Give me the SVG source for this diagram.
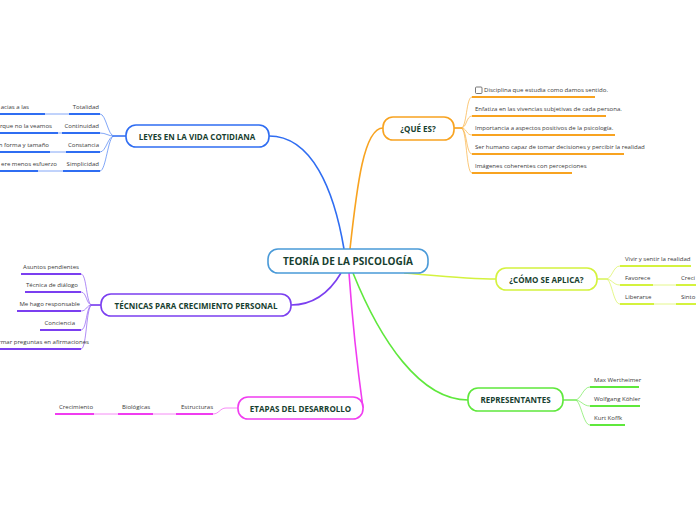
<svg xmlns="http://www.w3.org/2000/svg" width="696" height="520" viewBox="0 0 696 520">
<style>
.node{fill:#fff;stroke-width:1.6}
.nt{font-family:"Open Sans","Noto Sans",sans-serif;font-weight:700;font-size:8px;fill:#17402f;text-anchor:middle;dominant-baseline:central}
.ct{font-family:"Open Sans","Noto Sans",sans-serif;font-size:6.05px;fill:#3a3a3a}
.end{text-anchor:end}
.ul{stroke-width:2;fill:none}
.main{fill:none;stroke-width:1.6}
.sub{fill:none;stroke-width:1;opacity:.6}
.blue{stroke:#2f6df2}.orange{stroke:#f8a320}.lime{stroke:#d4f23e}.green{stroke:#5fe83c}.mag{stroke:#f03cf0}.purp{stroke:#7b3ff0}
</style>
<rect width="696" height="520" fill="#fff"/>
<g id="connectors">
  <path class="main blue" d="M344,249 C334,190 312,136 269,136"/>
  <path class="main orange" d="M350,249 C357,185 364,128 383,128"/>
  <path class="main lime" d="M404,273 C440,276 470,279 496,279"/>
  <path class="main green" d="M353,273 C380,340 420,400 468,400"/>
  <path class="main mag" d="M349,273 C353,330 358,372 363,408"/>
  <path class="main purp" d="M341,273 C328,295 310,305 291,305"/>
  <path class="sub blue" d="M126,136 H114 C108,136 106,114 100,114"/>
  <path class="sub blue" d="M126,136 H114 C108,136 106,133 100,133"/>
  <path class="sub blue" d="M126,136 H114 C108,136 106,152 100,152"/>
  <path class="sub blue" d="M126,136 H114 C108,136 106,171 100,171"/>
  <path class="sub blue" d="M69,114 H45 M62,133 H58 M66,152 H50 M63,171 H38"/>
  <path class="sub orange" d="M454,128 H461 C467,128 466,97 472,97"/>
  <path class="sub orange" d="M454,128 H461 C467,128 466,116 472,116"/>
  <path class="sub orange" d="M454,128 H461 C467,128 466,135 472,135"/>
  <path class="sub orange" d="M454,128 H461 C467,128 466,154 472,154"/>
  <path class="sub orange" d="M454,128 H461 C467,128 466,173 472,173"/>
  <path class="sub lime" d="M597,279 H606 C612,279 613,266 620,266"/>
  <path class="sub lime" d="M597,279 H606 C612,279 613,285 620,285"/>
  <path class="sub lime" d="M597,279 H606 C612,279 613,304 620,304"/>
  <path class="sub lime" d="M653,285 H676 M654,304 H676"/>
  <path class="sub green" d="M563,400 H575 C581,400 583,387 590,387"/>
  <path class="sub green" d="M563,400 H575 C581,400 583,406 590,406"/>
  <path class="sub green" d="M563,400 H575 C581,400 583,425 590,425"/>
  <path class="sub mag" d="M238,408 H226 C220,408 219,414 213,414"/>
  <path class="sub mag" d="M176,414 H153 M118,414 H94"/>
  <path class="sub purp" d="M101,305 H92 C86,305 87,274 81,274"/>
  <path class="sub purp" d="M101,305 H92 C86,305 87,292 81,292"/>
  <path class="sub purp" d="M101,305 H92 C86,305 87,311 81,311"/>
  <path class="sub purp" d="M101,305 H92 C86,305 87,330 81,330"/>
  <path class="sub purp" d="M101,305 H92 C86,305 87,349 81,349"/>
</g>
<g id="central">
  <rect class="node" x="268" y="249" width="160" height="24" rx="10" stroke="#4a9ad8"/>
  <text class="nt" x="348" y="261" style="font-size:10px">TEORÍA DE LA PSICOLOGÍA</text>
</g>
<g id="leyes">
  <rect class="node" x="126" y="125" width="143" height="22" rx="10" stroke="#2f6df2"/>
  <text class="nt" x="197" y="136">LEYES EN LA VIDA COTIDIANA</text>
</g>
<g id="leyes-children">
  <path class="ul blue" d="M69,114 H100 M62,133 H100 M66,152 H100 M63,171 H100"/>
  <path class="ul blue" d="M0,114 H45 M0,133 H58 M0,152 H50 M0,171 H38"/>
  <text class="ct end" x="99" y="109">Totalidad</text>
  <text class="ct end" x="99" y="128">Continuidad</text>
  <text class="ct end" x="99" y="147">Constancia</text>
  <text class="ct end" x="99" y="166">Simplicidad</text>
  <text class="ct end" x="29" y="109">acias a las</text>
  <text class="ct end" x="52" y="128">rque no la veamos</text>
  <text class="ct end" x="49" y="147">n forma y tamaño</text>
  <text class="ct end" x="57" y="166">ere menos esfuerzo</text>
</g>
<g id="que-es">
  <rect class="node" x="383" y="117" width="71" height="23" rx="10" stroke="#f8a320"/>
  <text class="nt" x="418" y="128.5">¿QUÉ ES?</text>
</g>
<g id="que-es-children">
  <path class="ul orange" d="M472,97 H595 M472,116 H606 M472,135 H615 M472,154 H624 M472,173 H572"/>
  <rect x="475.5" y="87" width="6.5" height="6.5" rx="1" fill="#fff" stroke="#555" stroke-width=".8"/>
  <text class="ct" x="484" y="92">Disciplina que estudia como damos sentido.</text>
  <text class="ct" x="475" y="111">Enfatiza en las vivencias subjetivas de cada persona.</text>
  <text class="ct" x="475" y="130">Importancia a aspectos positivos de la psicología.</text>
  <text class="ct" x="475" y="149">Ser humano capaz de tomar decisiones y percibir la realidad</text>
  <text class="ct" x="475" y="168">Imágenes coherentes con percepciones</text>
</g>
<g id="como">
  <rect class="node" x="496" y="268" width="101" height="22" rx="10" stroke="#d4f23e"/>
  <text class="nt" x="546.5" y="279">¿CÓMO SE APLICA?</text>
</g>
<g id="como-children">
  <path class="ul lime" d="M620,266 H691 M620,285 H653 M620,304 H654 M676,285 H696 M676,304 H696"/>
  <text class="ct" x="625" y="261">Vivir y sentir la realidad</text>
  <text class="ct" x="625" y="280">Favorece</text>
  <text class="ct" x="625" y="299">Liberarse</text>
  <text class="ct" x="681" y="280">Creci</text>
  <text class="ct" x="681" y="299">Sinto</text>
</g>
<g id="representantes">
  <rect class="node" x="468" y="388" width="95" height="23" rx="10" stroke="#5fe83c"/>
  <text class="nt" x="515.5" y="399.5">REPRESENTANTES</text>
</g>
<g id="representantes-children">
  <path class="ul green" d="M590,387 H639 M590,406 H640 M590,425 H625"/>
  <text class="ct" x="594" y="382">Max Wertheimer</text>
  <text class="ct" x="594" y="401">Wolfgang Köhler</text>
  <text class="ct" x="594" y="420">Kurt Koffk</text>
</g>
<g id="etapas">
  <rect class="node" x="238" y="397" width="125" height="22" rx="10" stroke="#f03cf0"/>
  <text class="nt" x="300.5" y="408">ETAPAS DEL DESARROLLO</text>
</g>
<g id="etapas-children">
  <path class="ul mag" d="M176,414 H213 M118,414 H153 M55,414 H94"/>
  <text class="ct" x="181" y="409">Estructuras</text>
  <text class="ct" x="122" y="409">Biológicas</text>
  <text class="ct" x="59" y="409">Crecimiento</text>
</g>
<g id="tecnicas">
  <rect class="node" x="101" y="294" width="190" height="22" rx="10" stroke="#7b3ff0"/>
  <text class="nt" x="196" y="305">TÉCNICAS PARA CRECIMIENTO PERSONAL</text>
</g>
<g id="tecnicas-children">
  <path class="ul purp" d="M21,274 H81 M25,292 H81 M17,311 H81 M40,330 H81 M0,349 H81"/>
  <text class="ct end" x="79" y="269">Asuntos pendientes</text>
  <text class="ct end" x="78" y="287">Técnica de diálogo</text>
  <text class="ct end" x="80" y="306">Me hago responsable</text>
  <text class="ct end" x="75" y="325">Conciencia</text>
  <text class="ct end" x="89" y="344">rmar preguntas en afirmaciones</text>
</g>
</svg>
